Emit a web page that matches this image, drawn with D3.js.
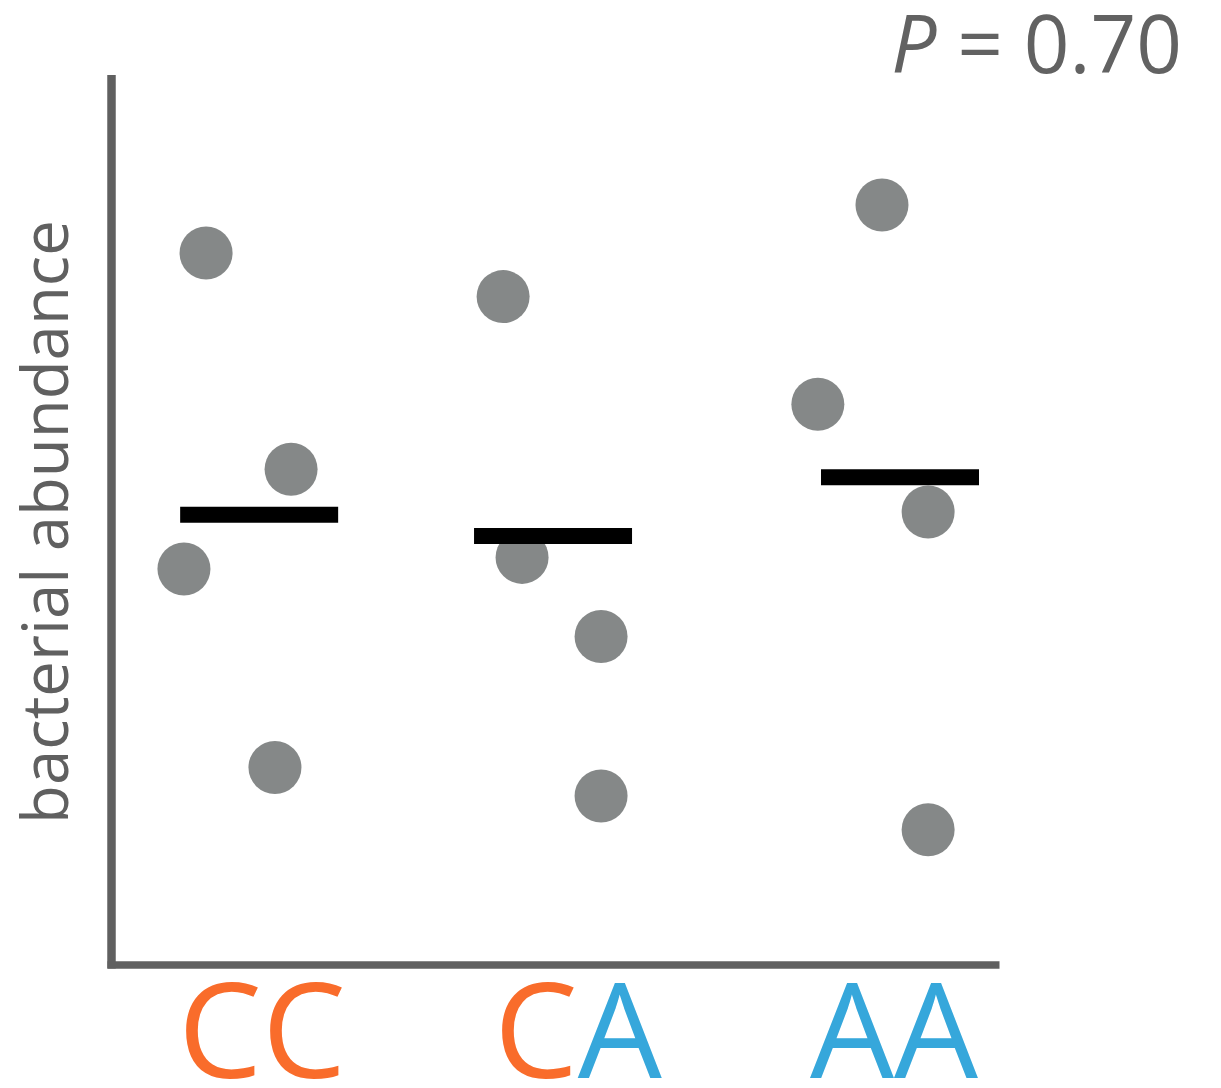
<!DOCTYPE html>
<html>
<head>
<meta charset="utf-8">
<script src="https://cdn.jsdelivr.net/npm/d3@7"></script>
<style>
  html, body { margin: 0; padding: 0; background: #fff; }
  svg { display: block; }
  text { font-family: "Open Sans", "Lato", sans-serif; }
</style>
</head>
<body>
<svg id="chart" width="1221" height="1088"></svg>
<script>
// Genotype groups along the x axis
const genotypes = ["CC", "CA", "AA"];
// Allele letters of each genotype label
const alleleLetters = [["C", "C"], ["C", "A"], ["A", "A"]];

// Bacterial abundance per sample (arbitrary units), grouped by genotype
const abundanceCC = [8.00, 5.57, 4.45, 2.22];
const abundanceCA = [7.51, 4.58, 3.69, 1.90];
const abundanceAA = [8.54, 6.30, 5.09, 1.52];
// Horizontal jitter of each sample within its group (in group-step units)
const jitterCC = [-0.177, 0.092, -0.247, 0.041];
const jitterCA = [-0.237, -0.177, 0.073, 0.073];
const jitterAA = [-0.038, -0.241, 0.108, 0.108];

// Group summary line (abundance) and its horizontal offset
const groupCentre = [5.06, 4.82, 5.48];
const groupCentreShift = [-0.009, -0.079, 0.019];

const pValueText = "0.70";

const alleleColor = { C: "#f96c2b", A: "#36a7db" };
const axisColor = "#606060";
const dotColor = "#858888";

const svg = d3.select("#chart");

const x = d3.scaleLinear().domain([0, 2]).range([262, 894]);
const y = d3.scaleLinear().domain([0, 10]).range([965, 75]);

const samples = [abundanceCC, abundanceCA, abundanceAA].flatMap((vals, gi) => {
  const jit = [jitterCC, jitterCA, jitterAA][gi];
  return vals.map((v, i) => ({ group: gi, value: v, jitter: jit[i] }));
});

// Axes: plain lines, no ticks
const yAxis = d3.axisLeft(y).tickValues([]).tickSizeOuter(0);
const xAxis = d3.axisBottom(d3.scaleLinear().domain([0, 1]).range([107, 999])).tickValues([]).tickSizeOuter(0);

const gy = svg.append("g").attr("transform", "translate(111.5,0)").call(yAxis);
gy.select(".domain").attr("stroke", axisColor).attr("stroke-width", 8.5)
  .attr("d", `M0,${y(10)}V${y(0) + 3.5}`);

const gx = svg.append("g").attr("transform", "translate(0,964.5)").call(xAxis);
gx.select(".domain").attr("stroke", axisColor).attr("stroke-width", 7.5);

// Sample points
svg.append("g").selectAll("circle")
  .data(samples)
  .join("circle")
  .attr("cx", d => x(d.group + d.jitter))
  .attr("cy", d => y(d.value))
  .attr("r", 26.5)
  .attr("fill", dotColor);

// Group summary lines
const halfWidth = 0.25;
svg.append("g").selectAll("line")
  .data(groupCentre)
  .join("line")
  .attr("x1", (d, i) => x(i + groupCentreShift[i] - halfWidth))
  .attr("x2", (d, i) => x(i + groupCentreShift[i] + halfWidth))
  .attr("y1", d => y(d))
  .attr("y2", d => y(d))
  .attr("stroke", "#000")
  .attr("stroke-width", 16);

// Genotype labels, each allele letter coloured
const labels = svg.append("g").selectAll("text")
  .data(genotypes)
  .join("text")
  .attr("x", (d, i) => x(i))
  .attr("y", 1078)
  .attr("text-anchor", "middle")
  .attr("font-size", 132)
  .attr("font-weight", 400)
  .attr("textLength", 168)
  .attr("lengthAdjust", "spacingAndGlyphs");
labels.selectAll("tspan")
  .data((d, i) => alleleLetters[i])
  .join("tspan")
  .attr("fill", d => alleleColor[d])
  .text(d => d);

// Y axis title
svg.append("text")
  .attr("transform", "translate(68,522) rotate(-90)")
  .attr("text-anchor", "middle")
  .attr("font-size", 63.5)
  .attr("font-weight", 400)
  .attr("fill", "#606060")
  .text("bacterial abundance");

// P value annotation
const pText = svg.append("text")
  .attr("x", 1182)
  .attr("y", 73)
  .attr("text-anchor", "end")
  .attr("font-size", 80)
  .attr("font-weight", 400)
  .attr("fill", "#626262");
pText.append("tspan").attr("font-style", "italic").text("P");
pText.append("tspan").text(" = " + pValueText);
</script>
</body>
</html>
